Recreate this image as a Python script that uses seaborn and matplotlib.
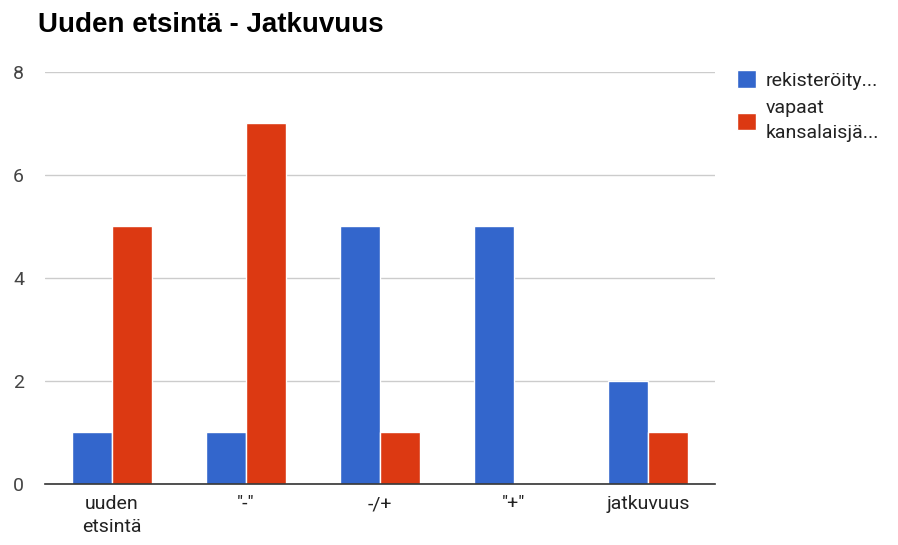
import pandas as pd
import matplotlib.pyplot as plt
import seaborn as sns

categories = ['uuden\netsintä', '"-"', '-/+', '"+"', 'jatkuvuus']
series_names = ['rekisteröity...', 'vapaat\nkansalaisjä...']
rekisteroity = [1, 1, 5, 5, 2]
vapaat = [5, 7, 1, 0, 1]
colors = ['#3366cc', '#dc3912']

df = pd.DataFrame({
    'kategoria': categories * 2,
    'sarja': [series_names[0]] * len(categories) + [series_names[1]] * len(categories),
    'arvo': rekisteroity + vapaat,
})

sns.set_style('white')
plt.rcParams['font.family'] = ['Roboto', 'DejaVu Sans']

fig = plt.figure(figsize=(8.98, 5.45), dpi=100)
ax = fig.add_axes([0.050, 0.112, 0.746, 0.756])

sns.barplot(data=df, x='kategoria', y='arvo', hue='sarja', palette=colors,
            saturation=1, width=0.6, edgecolor='white', linewidth=1, ax=ax, legend=True)

ax.set_ylim(0, 8)
ax.set_yticks([0, 2, 4, 6, 8])
ax.yaxis.grid(True, color='#cccccc', linewidth=1)
ax.set_axisbelow(True)
for s in ['top', 'right', 'left']:
    ax.spines[s].set_visible(False)
ax.spines['bottom'].set_color('#333333')
ax.spines['bottom'].set_linewidth(1.2)
ax.tick_params(axis='both', length=0, labelsize=14, colors='#444444', pad=8)
ax.tick_params(axis='y', pad=15)
for lbl in ax.get_xticklabels():
    lbl.set_color('#222222')
    lbl.set_linespacing(1.35)
ax.set_xlabel('')
ax.set_ylabel('')

handles, labels = ax.get_legend_handles_labels()
leg = ax.legend(handles, labels, loc='upper left', bbox_to_anchor=(0.801, 0.903),
                bbox_transform=fig.transFigure, frameon=False, fontsize=14,
                handlelength=1.0, handleheight=1.0, handletextpad=0.5, labelspacing=0.5,
                labelcolor='#222222')
for t in leg.get_texts():
    t.set_linespacing(1.5)

fig.text(0.042, 0.955, 'Uuden etsintä - Jatkuvuus', fontsize=20, fontweight='bold',
         ha='left', va='center', color='#000000', family=['Liberation Sans', 'DejaVu Sans'])

fig.savefig('out.png', dpi=100)
